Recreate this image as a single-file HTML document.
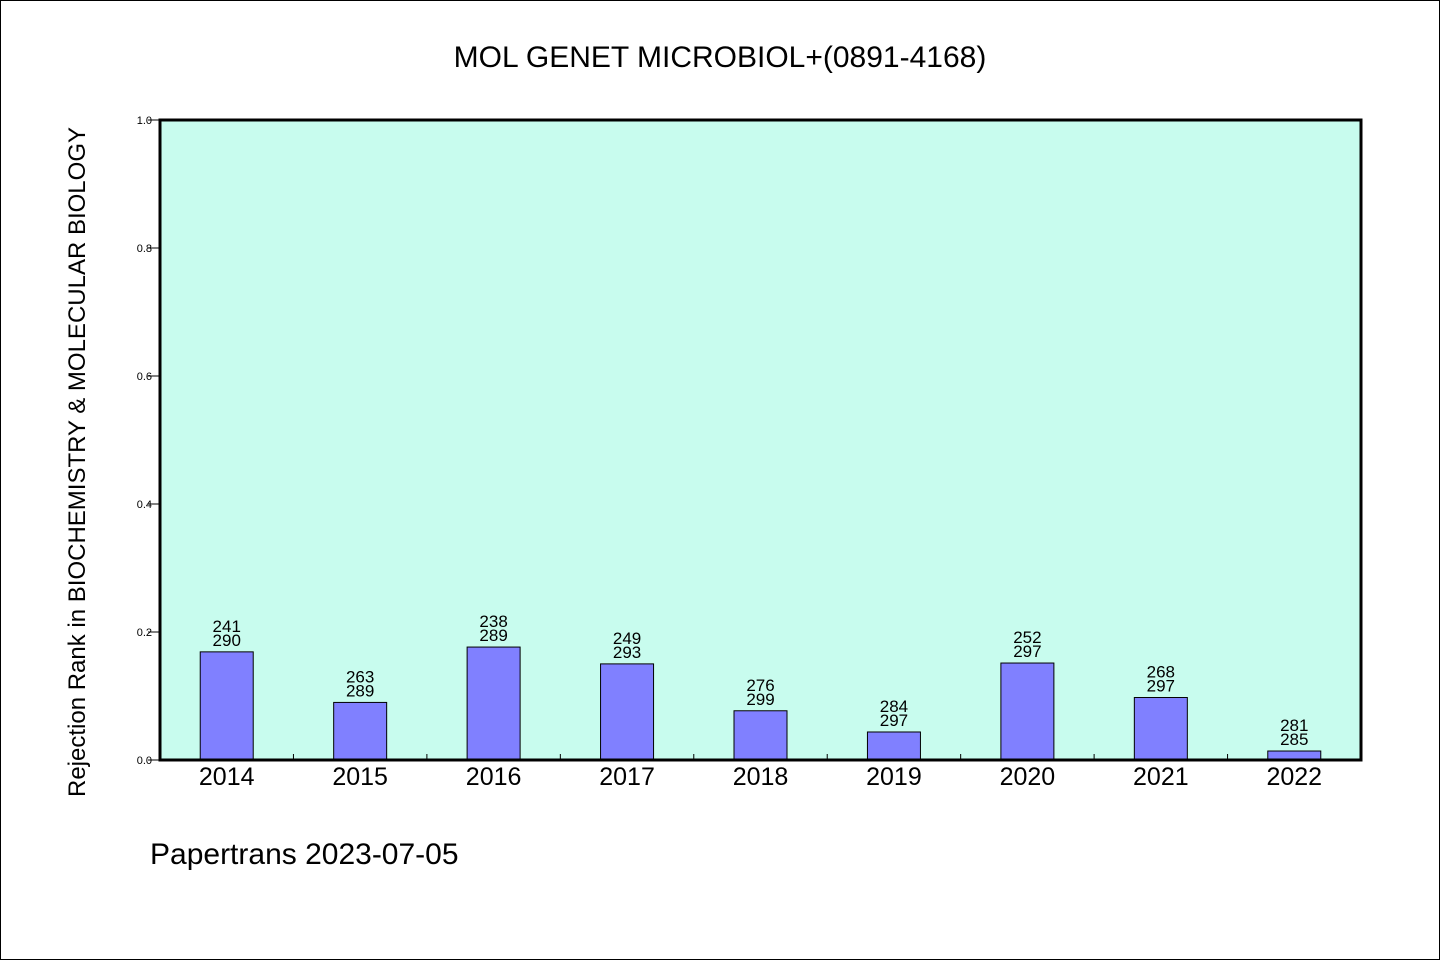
<!DOCTYPE html>
<html><head><meta charset="utf-8"><style>
html,body{margin:0;padding:0;background:#fff}
svg{display:block;font-family:"WenQuanYi Zen Hei","Liberation Sans",sans-serif}
</style></head><body>
<svg id="chart" width="1440" height="960" viewBox="0 0 1440 960" xmlns="http://www.w3.org/2000/svg">
<rect x="0.5" y="0.5" width="1439" height="959" fill="#fff" stroke="#000" stroke-width="1"/>
<text x="720" y="67" font-size="30" text-anchor="middle">MOL GENET MICROBIOL+(0891-4168)</text>
<text transform="translate(85,462) rotate(-90)" font-size="24" text-anchor="middle">Rejection Rank in BIOCHEMISTRY &amp; MOLECULAR BIOLOGY</text>
<text x="150" y="864" font-size="30">Papertrans 2023-07-05</text>
<rect x="160" y="120" width="1201" height="640" fill="#c8fcee"/>
<g id="marks"></g>
<rect x="160" y="120" width="1201" height="640" fill="none" stroke="#000" stroke-width="3"/>
</svg>
<script>
const years = ["2014","2015","2016","2017","2018","2019","2020","2021","2022"];
const ranks = [241,263,238,249,276,284,252,268,281];
const totals = [290,289,289,293,299,297,297,297,285];
const yTicks = [0.0,0.2,0.4,0.6,0.8,1.0];
const yTickLabels = ["0.0","0.2","0.4","0.6","0.8","1.0"];

const NS="http://www.w3.org/2000/svg";
const g=document.getElementById('marks');
const X0=160,X1=1361,Y0=760,Y1=120;
const band=(X1-X0)/years.length;
const xc=i=>X0+band*(i+0.5);
const y=v=>Y0-(Y0-Y1)*v;
function mk(tag,attrs,txt){const e=document.createElementNS(NS,tag);for(const k in attrs)e.setAttribute(k,attrs[k]);if(txt!==undefined)e.textContent=txt;g.appendChild(e);return e;}

yTicks.forEach((t,i)=>{
  const l=mk('line',{x1:148,x2:160,y1:y(t),y2:y(t),stroke:'#000','stroke-width':1});
  
  
  const tx=mk('text',{x:152,y:y(t)+4,'font-size':11,'text-anchor':'end'},yTickLabels[i]);
  
  
});
for(let i=1;i<years.length;i++){
  const xx=X0+band*i;
  const l=mk('line',{x1:xx,x2:xx,y1:Y0,y2:Y0-6,stroke:'#000','stroke-width':1});
  
  
}
years.forEach((yr,i)=>{
  const v=1-ranks[i]/totals[i];
  const bw=53;
  const r=mk('rect',{x:xc(i)-bw/2,y:y(v),width:bw,height:Y0-y(v),fill:'#8080ff',stroke:'#000','stroke-width':1});
  
  
  const t1=mk('text',{x:xc(i),y:y(v)-20,'font-size':17,'text-anchor':'middle'},String(ranks[i]));
  
  
  const t2=mk('text',{x:xc(i),y:y(v)-6,'font-size':17,'text-anchor':'middle'},String(totals[i]));
  
  
  const xl=mk('text',{x:xc(i),y:785,'font-size':25,'text-anchor':'middle'},yr);
  
  
});
</script>
</body></html>
